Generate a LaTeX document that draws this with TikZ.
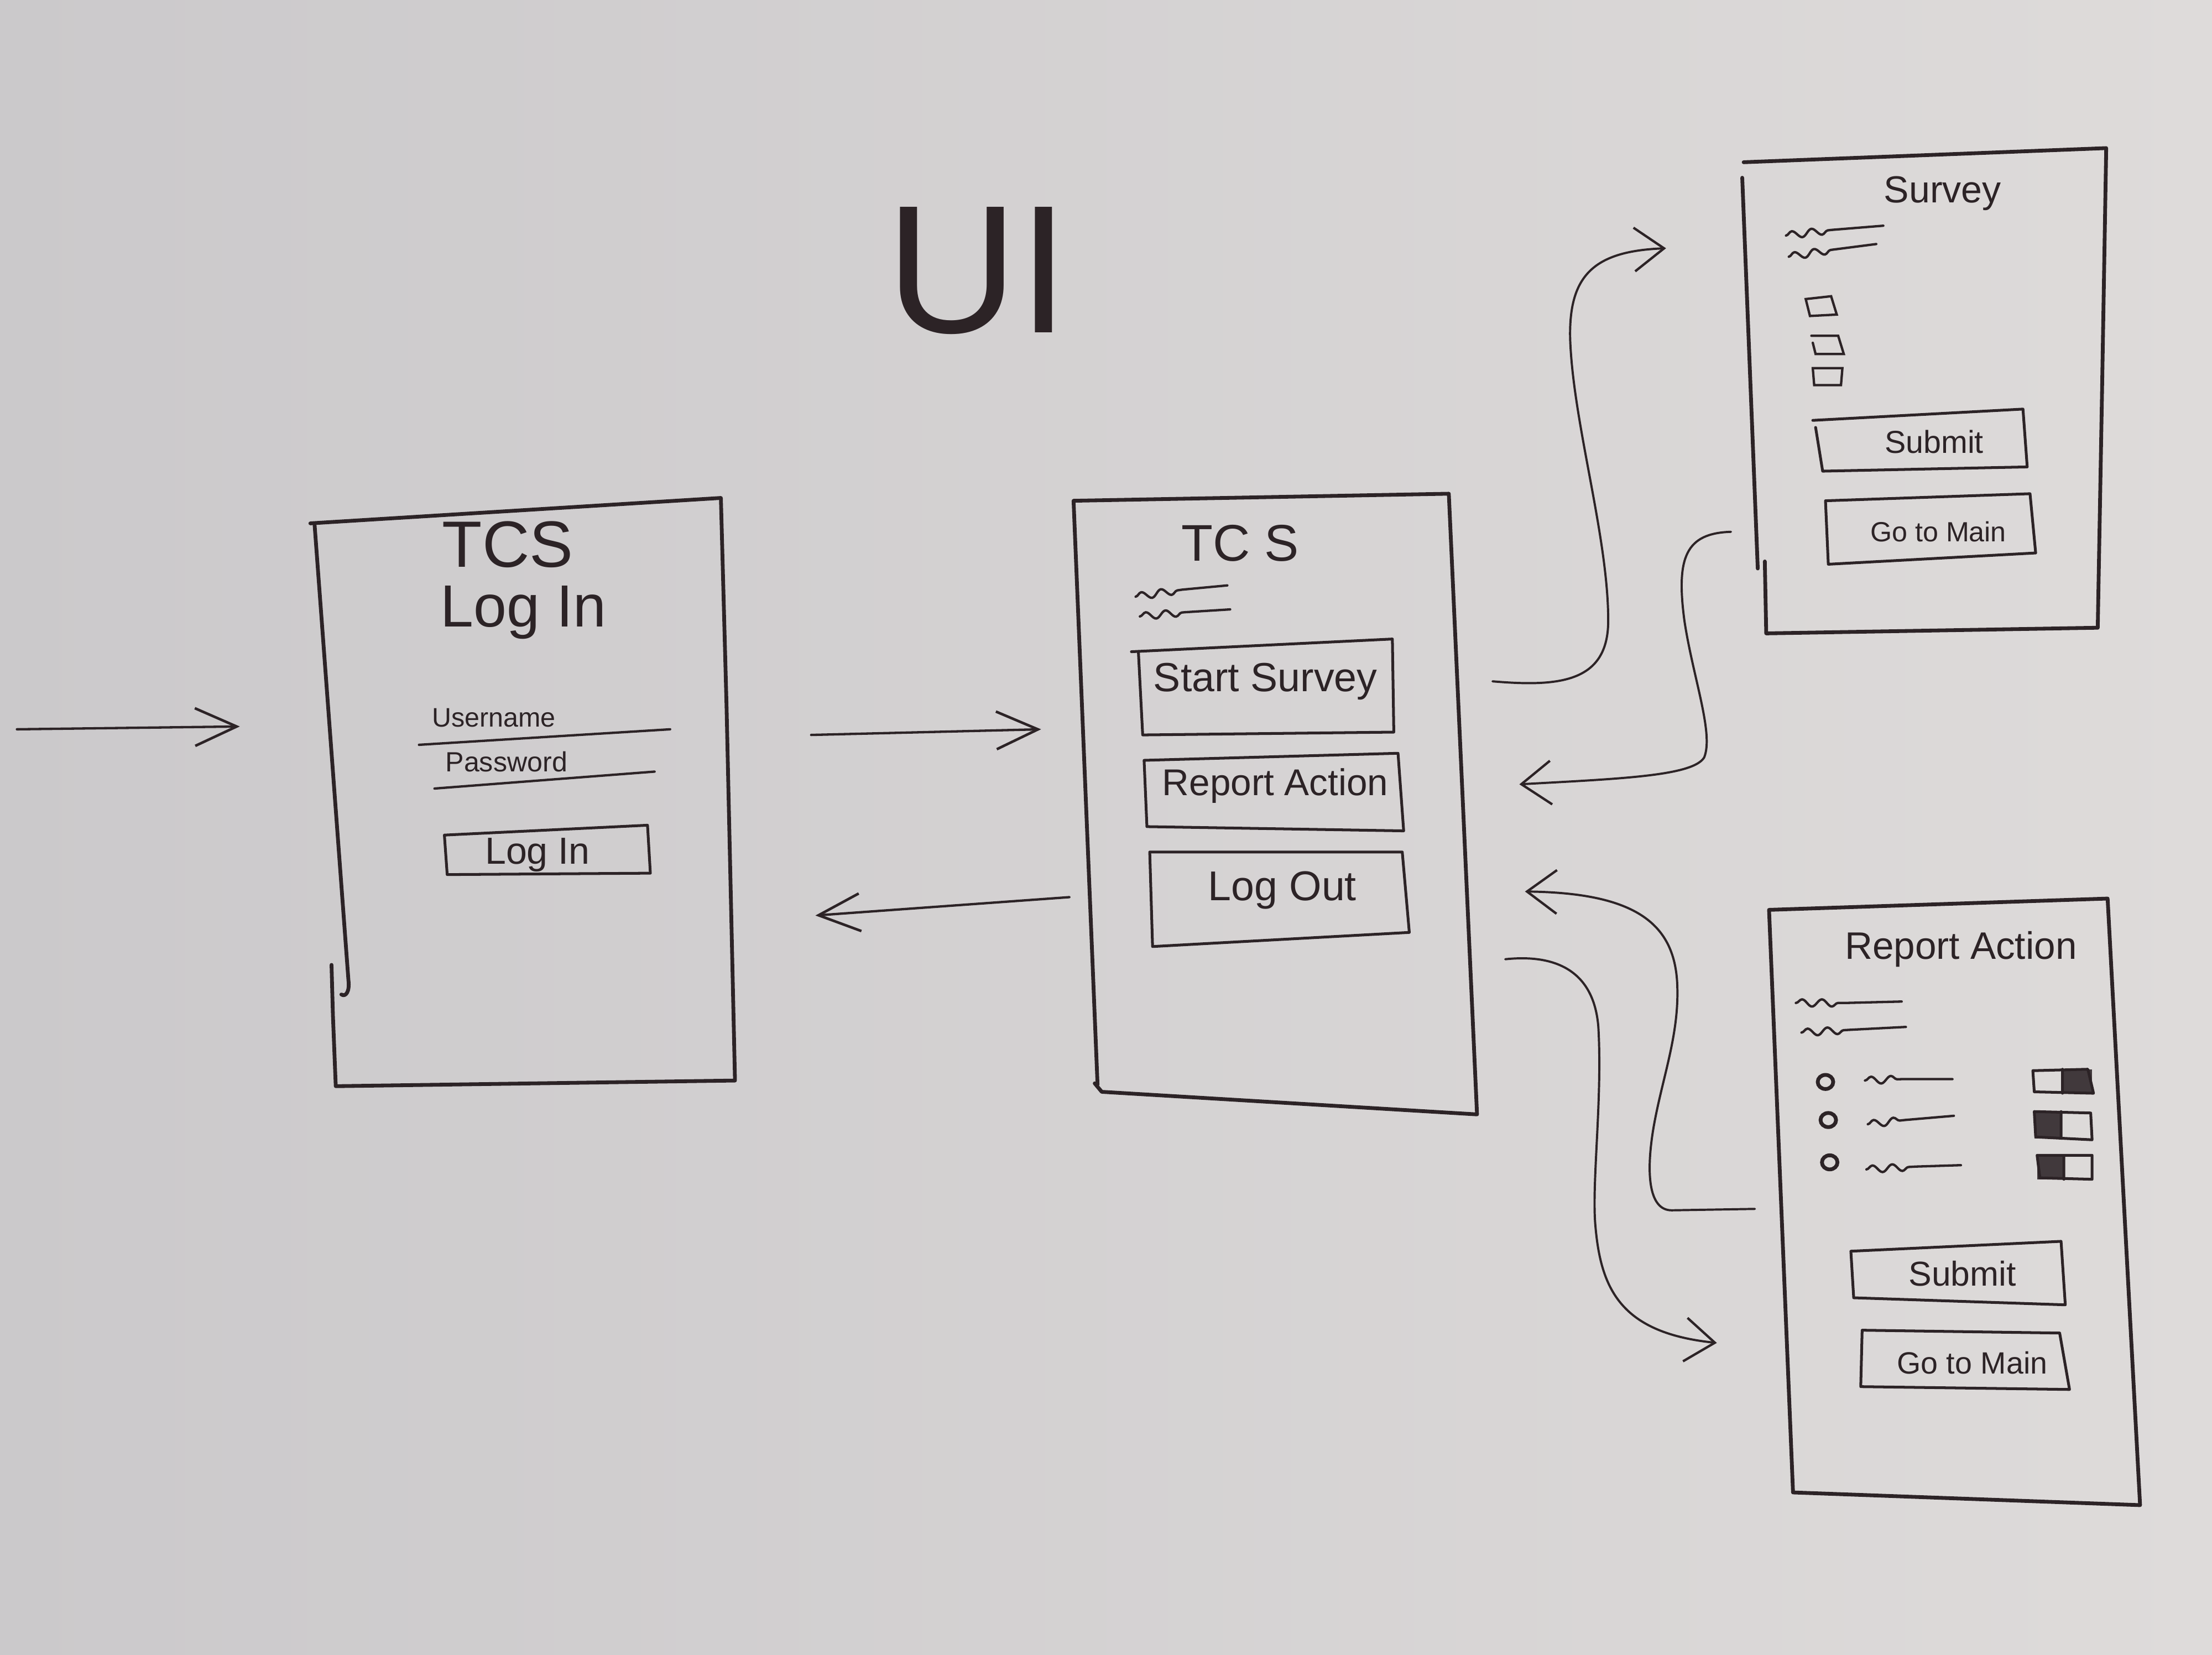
\documentclass[tikz,border=0pt]{standalone}
\usepackage{fontspec}
\setmainfont{Liberation Sans}
\usetikzlibrary{arrows.meta,decorations.pathmorphing}

\definecolor{boardL}{RGB}{203,201,203}
\definecolor{boardR}{RGB}{222,219,218}
\definecolor{ink}{RGB}{44,35,38}

\tikzset{
  frame/.style={draw=ink, line width=1.9pt, line join=round, line cap=round},
  btn/.style={draw=ink, line width=1.4pt, line join=round, line cap=round},
  scribble/.style={draw=ink, line width=1.2pt, line cap=round},
  flow/.style={draw=ink, line width=1.1pt, line cap=round,
    -{Straight Barb[length=15pt,width=22pt,line width=1.2pt]}},
  flowlong/.style={draw=ink, line width=1.2pt, line cap=round,
    -{Straight Barb[length=21pt,width=19pt,line width=1.3pt]}},
  txt/.style={text=ink, inner sep=0pt, font={\fontsize{#1pt}{#1pt}\selectfont}},
  wave/.style={decoration={snake,segment length=10pt,amplitude=1.8pt}},
  radio/.style={draw=ink, line width=1.9pt},
}

\begin{document}
\begin{tikzpicture}[x=0.025cm,y=-0.025cm]
  % whiteboard
  \useasboundingbox (0,0) rectangle (1568,1173);
  \shade[left color=boardL, right color=boardR] (0,0) rectangle (1568,1173);

  % title
  \node[txt=92] (title) at (693,192) {UI};

  % ---------- login screen ----------
  \draw[frame] (220,371) -- (511,353) -- (515,500) -- (521,766) -- (238,770) -- (236,720) -- (235,684);
  \draw[frame] (223,372) -- (247,695) .. controls (248,703) and (245,707) .. (242,705);
  \node[txt=33] (lgTitle) at (360,386) {TCS};
  \node[txt=30] (lgSub) at (371,434) {Log In};
  \node[txt=13.5] (lgUser) at (350,509) {Username};
  \draw[scribble] (297,528) -- (475,517);
  \node[txt=14] (lgPass) at (359,540) {Password};
  \draw[scribble] (308,559) -- (464,547);
  \draw[btn] (315,592) -- (459,585) -- (461,619) -- (317,620) -- cycle;
  \node[txt=19] (lgBtn) at (381,606) {Log In};

  % ---------- main screen ----------
  \draw[frame] (761,355) -- (1027,350) -- (1047,790) -- (781,774) -- (776,768) -- (778,769) -- cycle;
  \node[txt=26] (mnTitle) at (879,385) {TC S};
  \draw[scribble] (805,423) decorate[wave] { -- (838,418) } -- (870,415);
  \draw[scribble] (808,437) decorate[wave] { -- (840,434) } -- (872,432);
  \draw[btn] (802,462) -- (987,453) -- (988,519) -- (810,521) -- (807,463);
  \node[txt=20.5] (mnSurvey) at (897,483) {Start Survey};
  \draw[btn] (811,539) -- (991,534) -- (995,589) -- (813,586) -- cycle;
  \node[txt=18.8] (mnReport) at (904,557) {Report Action};
  \draw[btn] (815,604) -- (994,604) -- (999,661) -- (817,671) -- cycle;
  \node[txt=21] (mnLogout) at (909,631) {Log Out};

  % ---------- survey screen ----------
  \draw[frame] (1236,115) -- (1493,105) -- (1490,280) -- (1487,445) -- (1252,449) -- (1251,398);
  \draw[frame] (1235,126) -- (1246,403);
  \node[txt=19] (svTitle) at (1377,137) {Survey};
  \draw[scribble] (1266,167) decorate[wave] { -- (1298,163) } -- (1335,160);
  \draw[scribble] (1268,182) decorate[wave] { -- (1299,177) } -- (1330,173);
  \draw[scribble] (1280,212) -- (1298,210) -- (1302,223) -- (1283,224) -- cycle;
  \draw[scribble] (1284,238) -- (1303,238) -- (1307,251) -- (1287,251) -- (1285,243);
  \draw[scribble] (1285,261) -- (1306,261) -- (1305,273) -- (1286,273) -- cycle;
  \draw[btn] (1285,298) -- (1434,290) -- (1437,331) -- (1292,334) -- (1287,303);
  \node[txt=16] (svSubmit) at (1371,313) {Submit};
  \draw[btn] (1294,355) -- (1439,350) -- (1443,392) -- (1296,400) -- cycle;
  \node[txt=14] (svMain) at (1374,377) {Go to Main};

  % ---------- report action screen ----------
  \draw[frame] (1254,645) -- (1494,637) -- (1517,1067) -- (1271,1058) -- cycle;
  \node[txt=19.3] (raTitle) at (1390,673) {Report Action};
  \draw[scribble] (1273,711) decorate[wave] { -- (1308,711) } -- (1348,710);
  \draw[scribble] (1277,732) decorate[wave] { -- (1312,730) } -- (1351,728);
  % options
  \draw[radio] (1294,767) ellipse [x radius=5.5, y radius=5];
  \draw[radio] (1296,794) ellipse [x radius=5.5, y radius=5];
  \draw[radio] (1297,824) ellipse [x radius=5.5, y radius=5];
  \draw[scribble] (1322,766) decorate[wave] { -- (1348,765) } -- (1384,765);
  \draw[scribble] (1324,797) decorate[wave] { -- (1350,794) } -- (1385,791);
  \draw[scribble] (1323,829) decorate[wave] { -- (1358,827) } -- (1390,826);
  % toggles
  \fill[ink!90] (1462,758) rectangle (1483,775);
  \draw[btn] (1441,759) -- (1480,758) -- (1484,775) -- (1442,774) -- cycle (1462,758) -- (1462,775);
  \fill[ink!90] (1442,788) rectangle (1461,807);
  \draw[btn] (1442,788) -- (1482,789) -- (1483,808) -- (1443,806) -- cycle (1461,788) -- (1461,807);
  \fill[ink!90] (1444,819) rectangle (1463,836);
  \draw[btn] (1444,819) -- (1483,819) -- (1483,836) -- (1446,835) -- cycle (1463,819) -- (1463,836);
  \draw[btn] (1312,887) -- (1461,880) -- (1464,925) -- (1314,920) -- cycle;
  \node[txt=17.4] (raSubmit) at (1391,903) {Submit};
  \draw[btn] (1320,943) -- (1460,945) -- (1467,985) -- (1319,983) -- cycle;
  \node[txt=15.5] (raMain) at (1398,966) {Go to Main};

  % ---------- connector ends ----------
  \coordinate (entryA) at (12,517);
  \coordinate (entryB) at (170,515);
  \coordinate (toMainA) at (575,521);
  \coordinate (toMainB) at (738,517);
  \coordinate (toLoginA) at (758,636);
  \coordinate (toLoginB) at (578,649);
  \coordinate (toSurveyA) at (1058,483);
  \coordinate (toSurveyB) at (1181,176);
  \coordinate (fromSurveyA) at (1227,377);
  \coordinate (fromSurveyB) at (1077,556);
  \coordinate (fromReportA) at (1244,857);
  \coordinate (fromReportB) at (1081,632);
  \coordinate (toReportA) at (1067,680);
  \coordinate (toReportB) at (1217,952);

  % ---------- flows ----------
  \draw[flowlong] (entryA) -- (entryB);
  \draw[flowlong] (toMainA) -- (toMainB);
  \draw[flowlong] (toLoginA) -- (toLoginB);
  \draw[flow] (toSurveyA) .. controls (1105,487) and (1140,484) .. (1140,440)
    .. controls (1140,380) and (1115,300) .. (1113,240)
    .. controls (1112,195) and (1130,178) .. (toSurveyB);
  \draw[flow] (fromSurveyA) .. controls (1195,378) and (1188,395) .. (1194,440)
    .. controls (1200,480) and (1215,520) .. (1208,537)
    .. controls (1200,550) and (1150,552) .. (fromSurveyB);
  \draw[flow] (fromReportA) -- (1185,858) .. controls (1168,858) and (1167,830) .. (1172,800)
    .. controls (1178,765) and (1190,735) .. (1189,700)
    .. controls (1188,655) and (1160,633) .. (fromReportB);
  \draw[flow] (toReportA) .. controls (1105,676) and (1130,690) .. (1133,728)
    .. controls (1136,780) and (1128,840) .. (1131,870)
    .. controls (1135,915) and (1150,945) .. (toReportB);
\end{tikzpicture}
\end{document}
